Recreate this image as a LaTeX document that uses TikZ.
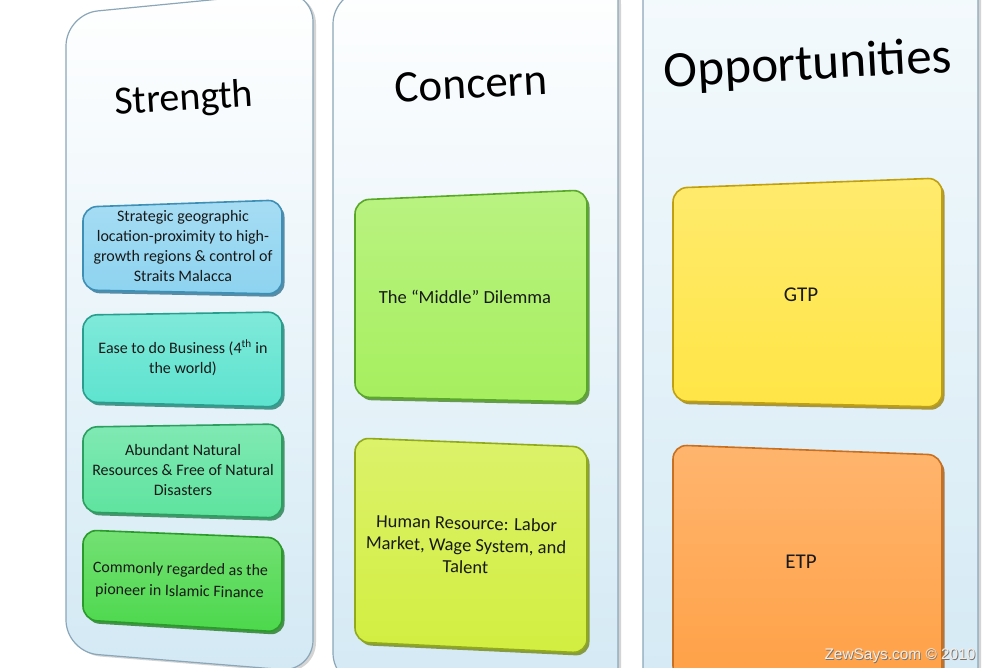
\documentclass[tikz,border=0pt]{standalone}
\usepackage{fontspec}
\setmainfont{Carlito}
\newfontfamily\wmfont{Liberation Sans}
\definecolor{pfill}{HTML}{D3E9F4}
\definecolor{ptop}{HTML}{F6FBFD}
\definecolor{pline}{HTML}{8AA6B8}
\definecolor{sAf}{HTML}{8DD3F0}\definecolor{sAb}{HTML}{3E8FB5}
\definecolor{sBf}{HTML}{5CE3CF}\definecolor{sBb}{HTML}{2A9E8E}
\definecolor{sCf}{HTML}{5DE39E}\definecolor{sCb}{HTML}{2C9E60}
\definecolor{sDf}{HTML}{4CD84C}\definecolor{sDb}{HTML}{2A9A2A}
\definecolor{cAf}{HTML}{A6EF5E}\definecolor{cAb}{HTML}{5AA82A}
\definecolor{cBf}{HTML}{D2EE40}\definecolor{cBb}{HTML}{90AA1C}
\definecolor{oAf}{HTML}{FFE545}\definecolor{oAb}{HTML}{C0A010}
\definecolor{oBf}{HTML}{FFA045}\definecolor{oBb}{HTML}{C87020}
\newcommand\panelshape[5]{%
  \begin{scope}[shift={(3,2)}]
    \fill[gray!60, opacity=.55, rounded corners=32] #1 -- #2 -- #3 -- #4 -- cycle;
  \end{scope}
  \shade[top color=#5, bottom color=pfill, rounded corners=32] #1 -- #2 -- #3 -- #4 -- cycle;
  \draw[pline, line width=1.2, rounded corners=32] #1 -- #2 -- #3 -- #4 -- cycle;
}
\newcommand\bevbox[6]{%
  \begin{scope}[shift={(2.5,3)}]
    \fill[#6!80!black, opacity=.8, rounded corners=14] #1 -- #2 -- #3 -- #4 -- cycle;
  \end{scope}
  \shade[top color=#5!78!white, bottom color=#5, rounded corners=14] #1 -- #2 -- #3 -- #4 -- cycle;
  \draw[#6, line width=1.6, rounded corners=14] #1 -- #2 -- #3 -- #4 -- cycle;
}
\tikzset{
  ttl/.style={inner sep=0, text=black},
  btxt/.style={align=center, inner sep=0, text=black!90, font=\fontsize{16}{20}\selectfont},
  ctxt/.style={align=center, inner sep=0, text=black!90, font=\fontsize{18.5}{22}\selectfont},
  otxt/.style={align=center, inner sep=0, text=black!90, font=\fontsize{21}{25}\selectfont},
}
\begin{document}
\begin{tikzpicture}[x=1pt,y=-1pt]
\useasboundingbox (0,0) rectangle (987,667);
\fill[white] (0,0) rectangle (987,667);
% panels
\panelshape{(66,652)}{(66,14)}{(313,-10)}{(313,672)}{white}
\panelshape{(333,685)}{(333,-8)}{(618,-30)}{(618,700)}{white}
\panelshape{(643,700)}{(643,-40)}{(978,-60)}{(978,720)}{ptop}
% titles
\node[ttl, font=\fontsize{40}{48}\selectfont, rotate=3.5] (tS) at (184,100) {Strength};
\node[ttl, font=\fontsize{45}{54}\selectfont, rotate=3] (tC) at (471,84) {Concern};
\node[ttl, font=\fontsize{51}{60}\selectfont, rotate=3] (tO) at (808,66) {Opportunities};
% strength boxes
\bevbox{(83,207)}{(282,200)}{(282,294)}{(83,290)}{sAf}{sAb}
\bevbox{(83,315)}{(282,312)}{(282,407)}{(83,402)}{sBf}{sBb}
\bevbox{(83,427)}{(282,424)}{(282,518)}{(83,512)}{sCf}{sCb}
\bevbox{(83,530)}{(282,538)}{(282,632)}{(83,620)}{sDf}{sDb}
\node[btxt] (s1) at (183,246) {Strategic geographic\\location-proximity to high-\\growth regions \& control of\\Straits Malacca};
\node[btxt] (s2) at (183,358) {Ease to do Business (4\textsuperscript{th} in\\the world)};
\node[btxt] (s3) at (183,470) {Abundant Natural\\Resources \& Free of Natural\\Disasters};
\node[btxt, rotate=-1.2] (s4a) at (180.5,570) {Commonly regarded as the};
\node[btxt, rotate=-1.2] (s4b) at (179.5,592) {pioneer in Islamic Finance};
% concern boxes
\bevbox{(355,200)}{(587,190)}{(587,402)}{(355,397)}{cAf}{cAb}
\bevbox{(355,438)}{(587,447)}{(587,653)}{(355,642)}{cBf}{cBb}
\node[ctxt] (c1) at (465,297) {The “Middle” Dilemma};
\node[ctxt, rotate=-1.5] (c2) at (466,545) {Human Resource: Labor\\Market, Wage System, and\\Talent};
% opportunity boxes
\bevbox{(673,188)}{(942,178)}{(942,407)}{(673,401)}{oAf}{oAb}
\bevbox{(673,445)}{(942,455)}{(942,690)}{(673,680)}{oBf}{oBb}
\node[otxt] (o1) at (801,295) {GTP};
\node[otxt] (o2) at (801,562) {ETP};
% watermark
\node[inner sep=0, text=black!55, font=\wmfont\fontsize{15.4}{18}\selectfont] at (900.8,656.8) {ZewSays.com © 2010};
\node[inner sep=0, text=white!85!brown, font=\wmfont\fontsize{15.4}{18}\selectfont] (wm) at (900,656) {ZewSays.com © 2010};
\end{tikzpicture}
\end{document}
